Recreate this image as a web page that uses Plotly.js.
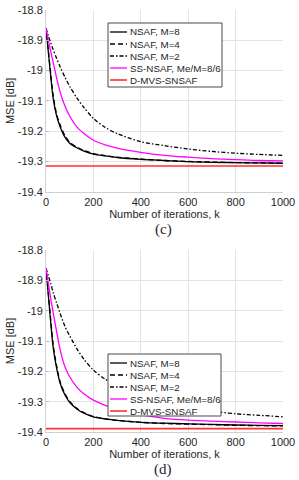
<!DOCTYPE html>
<html>
<head>
<meta charset="utf-8">
<script src="https://cdn.plot.ly/plotly-3.0.1.min.js"></script>
<style>html,body{margin:0;padding:0;background:#fff;}#chart{width:299px;height:480px;}</style>
</head>
<body>
<div id="chart"></div>
<script>
// ---- data ----
const iterations = [0, 10, 20, 30, 45, 60, 80, 100, 130, 160, 200, 250, 300, 400, 500, 600, 700, 800, 900, 1000];

const seriesNames = ["NSAF, M=8", "NSAF, M=4", "NSAF, M=2", "SS-NSAF, Me/M=8/6", "D-MVS-SNSAF"];

// panel (c)
const c_nsafM8 = [-18.86, -18.94, -19.02, -19.09, -19.15, -19.186, -19.22, -19.24, -19.255, -19.266, -19.276, -19.282, -19.287, -19.293, -19.297, -19.301, -19.303, -19.304, -19.305, -19.306];
const c_nsafM4 = [-18.86, -18.935, -19.01, -19.08, -19.145, -19.18, -19.215, -19.237, -19.253, -19.264, -19.274, -19.281, -19.286, -19.292, -19.297, -19.300, -19.302, -19.304, -19.305, -19.306];
const c_nsafM2 = [-18.86, -18.885, -18.908, -18.93, -18.96, -18.988, -19.022, -19.052, -19.09, -19.122, -19.158, -19.188, -19.208, -19.235, -19.248, -19.259, -19.267, -19.273, -19.277, -19.28];
const c_ssnsaf = [-18.86, -18.90, -18.937, -18.972, -19.025, -19.072, -19.117, -19.15, -19.186, -19.208, -19.23, -19.245, -19.256, -19.27, -19.28, -19.286, -19.291, -19.294, -19.297, -19.298];
const c_dmvs   = [-19.315, -19.315, -19.315, -19.315, -19.315, -19.315, -19.315, -19.315, -19.315, -19.315, -19.315, -19.315, -19.315, -19.315, -19.315, -19.315, -19.315, -19.315, -19.315, -19.315];

// panel (d)
const d_nsafM8 = [-18.86, -18.95, -19.04, -19.12, -19.19, -19.24, -19.278, -19.302, -19.324, -19.338, -19.35, -19.357, -19.362, -19.368, -19.371, -19.373, -19.375, -19.377, -19.378, -19.379];
const d_nsafM4 = [-18.86, -18.945, -19.03, -19.11, -19.183, -19.235, -19.274, -19.299, -19.322, -19.336, -19.349, -19.357, -19.362, -19.368, -19.372, -19.374, -19.376, -19.378, -19.379, -19.38];
const d_nsafM2 = [-18.86, -18.885, -18.91, -18.94, -18.975, -19.01, -19.052, -19.083, -19.125, -19.16, -19.196, -19.226, -19.247, -19.277, -19.298, -19.315, -19.331, -19.34, -19.345, -19.35];
const d_ssnsaf = [-18.86, -18.91, -18.96, -19.005, -19.07, -19.13, -19.185, -19.218, -19.252, -19.274, -19.295, -19.312, -19.325, -19.343, -19.355, -19.361, -19.364, -19.367, -19.37, -19.372];
const d_dmvs   = [-19.389, -19.389, -19.389, -19.389, -19.389, -19.389, -19.389, -19.389, -19.389, -19.389, -19.389, -19.389, -19.389, -19.389, -19.389, -19.389, -19.389, -19.389, -19.389, -19.389];

const xTickVals = [0, 200, 400, 600, 800, 1000];
const xTickText = ["0", "200", "400", "600", "800", "1000"];
const yTickVals = [-18.8, -18.9, -19.0, -19.1, -19.2, -19.3, -19.4];
const yTickText = ["-18.8", "-18.9", "-19", "-19.1", "-19.2", "-19.3", "-19.4"];
const panelLabels = ["(c)", "(d)"];

// ---- styles ----
const styles = [
  {color: "#000000", dash: "solid", width: 1.3},
  {color: "#000000", dash: "5px,3px", width: 1.3},
  {color: "#000000", dash: "4px,2px,1.5px,2px", width: 1.3},
  {color: "#ff00ff", dash: "solid", width: 1.3},
  {color: "#ff3030", dash: "solid", width: 1.6}
];
const txt = "#262626";
const FONT = "Liberation Sans, Arial, Helvetica, sans-serif";
const SERIF = "Liberation Serif, Times New Roman, serif";

const W = 299, H = 480;
const M = {l: 46, r: 16, t: 10, b: 48};
const px2x = p => (p - M.l) / (W - M.l - M.r);
const px2y = p => (H - M.b - p) / (H - M.t - M.b);

const panels = [
  {series: [c_nsafM8, c_nsafM4, c_nsafM2, c_ssnsaf, c_dmvs], xa: "x", ya: "y"},
  {series: [d_nsafM8, d_nsafM4, d_nsafM2, d_ssnsaf, d_dmvs], xa: "x2", ya: "y2"}
];

const traces = [];
panels.forEach((p) => {
  p.series.forEach((vals, si) => {
    traces.push({
      x: iterations, y: vals, xaxis: p.xa, yaxis: p.ya,
      type: "scatter", mode: "lines", name: seriesNames[si],
      line: {color: styles[si].color, dash: styles[si].dash, width: styles[si].width, shape: "spline", smoothing: 0.8},
      showlegend: false, hoverinfo: "skip"
    });
  });
});

const topDom = [px2y(191.7), 1];
const botDom = [0, px2y(250)];

function xaxisDef(anchor) {
  return {
    anchor: anchor, range: [0, 1000], tickvals: xTickVals, ticktext: xTickText,
    showgrid: true, gridcolor: "#e3e3e3", gridwidth: 1, zeroline: false,
    showline: true, linecolor: "#d0d0d0", linewidth: 1,
    ticks: "", tickfont: {family: FONT, size: 11, color: txt},
    title: {text: "Number of iterations, k", font: {family: FONT, size: 11, color: txt}, standoff: 2},
    fixedrange: true
  };
}
function yaxisDef(anchor, dom) {
  return {
    anchor: anchor, domain: dom, range: [-19.4, -18.8], tickvals: yTickVals, ticktext: yTickText,
    showgrid: true, gridcolor: "#e3e3e3", gridwidth: 1, zeroline: false,
    showline: true, linecolor: "#d0d0d0", linewidth: 1,
    ticks: "inside", ticklen: 3, tickcolor: "#bbbbbb",
    tickfont: {family: FONT, size: 11, color: txt},
    title: {text: "MSE [dB]", font: {family: FONT, size: 11, color: txt}, standoff: 0},
    fixedrange: true
  };
}
function rightAxis(anchor, over, dom) {
  return {
    anchor: anchor, overlaying: over, side: "right", domain: dom, range: [-19.4, -18.8],
    tickvals: yTickVals, showticklabels: false, showgrid: false, zeroline: false,
    showline: true, linecolor: "#3a3a3a", linewidth: 1.2, ticks: "inside", ticklen: 3, tickcolor: "#3a3a3a",
    fixedrange: true
  };
}

const shapes = [];
const annotations = [];

// compact legends, as in the reference
const legendBoxes = [
  {x0: 108, x1: 222, y0: 23, y1: 87},
  {x0: 108, x1: 221, y0: 354, y1: 416}
];
legendBoxes.forEach(b => {
  shapes.push({type: "rect", xref: "paper", yref: "paper", layer: "above",
    x0: px2x(b.x0), x1: px2x(b.x1), y0: px2y(b.y1), y1: px2y(b.y0),
    fillcolor: "#ffffff", line: {color: "#4a4a4a", width: 1}});
  seriesNames.forEach((nm, i) => {
    const yy = b.y0 + 9 + 12 * i;
    shapes.push({type: "line", xref: "paper", yref: "paper", layer: "above",
      x0: px2x(b.x0 + 2), x1: px2x(b.x0 + 19), y0: px2y(yy), y1: px2y(yy),
      line: {color: styles[i].color, dash: styles[i].dash, width: styles[i].width}});
    annotations.push({xref: "paper", yref: "paper", x: px2x(b.x0 + 19.5), y: px2y(yy),
      xanchor: "left", yanchor: "middle", showarrow: false, text: nm,
      font: {family: FONT, size: 9.8, color: txt}});
  });
});

// panel labels
annotations.push({xref: "paper", yref: "paper", x: px2x(163), y: px2y(229), xanchor: "center", yanchor: "middle",
  showarrow: false, text: panelLabels[0], font: {family: SERIF, size: 15, color: txt}});
annotations.push({xref: "paper", yref: "paper", x: px2x(163), y: px2y(469), xanchor: "center", yanchor: "middle",
  showarrow: false, text: panelLabels[1], font: {family: SERIF, size: 15, color: txt}});

const layout = {
  width: W, height: H, margin: M,
  paper_bgcolor: "#ffffff", plot_bgcolor: "#ffffff",
  showlegend: false,
  xaxis: xaxisDef("y"),
  yaxis: yaxisDef("x", topDom),
  xaxis2: xaxisDef("y2"),
  yaxis2: yaxisDef("x2", botDom),
  yaxis3: rightAxis("x", "y", topDom),
  yaxis4: rightAxis("x2", "y2", botDom),
  shapes: shapes,
  annotations: annotations
};

Plotly.newPlot("chart", traces, layout, {staticPlot: true, displayModeBar: false});
</script>
</body>
</html>
